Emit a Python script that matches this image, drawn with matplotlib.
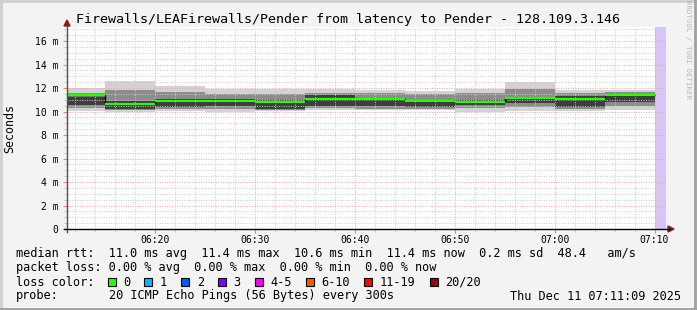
import numpy as np
import matplotlib.pyplot as plt
from matplotlib.patches import Rectangle, Polygon
from matplotlib.lines import Line2D
from matplotlib.transforms import IdentityTransform
from matplotlib.ticker import MultipleLocator

W, H = 697, 310

title = "Firewalls/LEAFirewalls/Pender from latency to Pender - 128.109.3.146"

# step edges, minutes after 06:00 (graph runs 06:11:09 -> 07:11:09)
t_edges = [11.15, 15, 20, 25, 30, 35, 40, 45, 50, 55, 60, 65, 70]
t_end = 71.15

# smoke per 5 min step, ms
hi      = [12.00, 12.62, 12.20, 11.90, 11.95, 11.90, 11.85, 11.75, 11.95, 12.55, 11.85, 11.85]
mid_hi  = [11.60, 11.85, 11.70, 11.50, 11.50, 11.60, 11.60, 11.50, 11.60, 11.90, 11.60, 11.70]
core_hi = [11.20, 10.90, 11.05, 11.05, 10.95, 11.40, 11.00, 11.00, 11.00, 11.20, 11.30, 11.40]
median  = [11.38, 10.66, 10.90, 10.94, 10.78, 11.03, 11.10, 10.92, 10.85, 11.18, 11.03, 11.45]
core_lo = [10.55, 10.20, 10.40, 10.50, 10.25, 10.50, 10.45, 10.40, 10.55, 10.70, 10.40, 10.85]
mid_lo  = [10.30, 10.10, 10.20, 10.20, 10.15, 10.30, 10.25, 10.25, 10.30, 10.40, 10.20, 10.50]
lo      = [10.05, 9.95, 10.05, 9.92, 10.05, 10.15, 10.10, 10.14, 10.00, 10.05, 10.07, 10.15]

x_labels = ["06:20", "06:30", "06:40", "06:50", "07:00", "07:10"]
y_ticks = [0, 2, 4, 6, 8, 10, 12, 14, 16]

legend_lines = [
    "median rtt:  11.0 ms avg  11.4 ms max  10.6 ms min  11.4 ms now  0.2 ms sd  48.4   am/s",
    "packet loss: 0.00 % avg  0.00 % max  0.00 % min  0.00 % now",
]
loss_labels = ["0", "1", "2", "3", "4-5", "6-10", "11-19", "20/20"]
loss_colors = ["#26ff00", "#00b8ff", "#0059ff", "#7e00ff", "#ff00ff", "#ff5500", "#ff0000", "#a10000"]
probe_text = "20 ICMP Echo Pings (56 Bytes) every 300s"
date_text = "Thu Dec 11 07:11:09 2025"

mono = "DejaVu Sans Mono"
plt.rcParams['font.family'] = mono

fig = plt.figure(figsize=(W / 100, H / 100), dpi=100, facecolor="#f3f3f3")
ax = fig.add_axes([67 / W, (H - 229) / H, 599 / W, 202 / H])
ax.set_facecolor("white")

# smoke
ax.stairs(hi, t_edges, baseline=lo, fill=True, color="#d2d2d2", lw=0, zorder=1)
ax.stairs(mid_hi, t_edges, baseline=mid_lo, fill=True, color="#8c8c8c", lw=0, zorder=1)
ax.stairs(core_hi, t_edges, baseline=core_lo, fill=True, color="#3e3e3e", lw=0, zorder=1)

# median: black step then green segments
ax.stairs(median, t_edges, baseline=None, color="black", lw=1, zorder=3)
ax.hlines(median, t_edges[:-1], t_edges[1:], color=loss_colors[0], lw=1.6, zorder=4)

ax.axvspan(t_edges[-1], t_end, color="#d8c4f6", lw=0, zorder=1)

ax.set_xlim(t_edges[0], t_end)
ax.set_ylim(0, 17.2)

x_pos = [int(s[:2]) * 60 + int(s[3:]) - 360 for s in x_labels]
ax.set_xticks(x_pos)
ax.set_xticklabels(x_labels)
ax.xaxis.set_minor_locator(MultipleLocator(2))
ax.set_yticks(y_ticks)
ax.set_yticklabels(["0" if v == 0 else "%d m" % v for v in y_ticks])
ax.yaxis.set_minor_locator(MultipleLocator(0.5))

ax.tick_params(which="both", labelsize=7, colors="#c0c0c0", labelcolor="black")
ax.tick_params(axis="x", which="major", length=3, pad=1.5, color="#f08080")
ax.tick_params(axis="x", which="minor", length=2)
ax.tick_params(axis="y", which="major", length=3, pad=3, color="#f08080")
ax.tick_params(axis="y", which="minor", length=2)

ax.set_axisbelow(False)
ax.grid(which="minor", color="#cccccc", linestyle=(0, (1, 1.5)), lw=0.7)
ax.grid(which="major", color="#f4a4a4", linestyle=(0, (1, 1.5)), lw=0.7)
for s in ax.spines.values():
    s.set_visible(False)

# axes lines with arrows (pixel coords, origin bottom-left)
idt = IdentityTransform()
def py(y):
    return H - y
fig.add_artist(Line2D([67, 67], [py(232), py(26)], color="#505050", lw=1, transform=idt))
fig.add_artist(Line2D([64, 670], [py(229), py(229)], color="black", lw=1, transform=idt))
fig.add_artist(Polygon([[64, py(26)], [70, py(26)], [67, py(20)]], closed=True,
                       color="#8b1a1a", transform=idt))
fig.add_artist(Polygon([[668, py(226)], [668, py(232)], [674, py(229)]], closed=True,
                       color="#8b1a1a", transform=idt))

# title, ylabel, watermark
fig.text(348 / W, py(19) / H, title, ha="center", va="center", fontsize=9.6)
fig.text(10 / W, py(128) / H, "Seconds", rotation=90, ha="center", va="center", fontsize=8.4)
fig.text(688 / W, py(50) / H, "RRDTOOL / TOBI OETIKER", rotation=270, ha="center",
         va="center", fontsize=5.3, color="#b8b8b8")

# legend
fs = 8.55
cw = 7.12
x0 = 16
fig.text(x0 / W, py(254) / H, legend_lines[0], ha="left", va="center", fontsize=fs)
fig.text(x0 / W, py(268) / H, legend_lines[1], ha="left", va="center", fontsize=fs)
fig.text(x0 / W, py(282) / H, "loss color:", ha="left", va="center", fontsize=fs)
sx = x0 + 13 * cw - 1
for lab, col in zip(loss_labels, loss_colors):
    fig.add_artist(Rectangle((sx, py(286)), 8, 8, facecolor=col, edgecolor="black",
                             lw=0.8, transform=idt))
    lx = sx + 15.5
    fig.text(lx / W, py(282) / H, lab, ha="left", va="center", fontsize=fs)
    sx = lx + (len(lab) + 2) * cw
fig.text(x0 / W, py(296) / H, "probe:", ha="left", va="center", fontsize=fs)
fig.text((x0 + 13 * cw) / W, py(296) / H, probe_text, ha="left", va="center", fontsize=fs)
fig.text(681 / W, py(296) / H, date_text, ha="right", va="center", fontsize=fs)

# border shading
fig.add_artist(Line2D([0, W], [H - 1, H - 1], color="#d0d0d0", lw=2, transform=idt))
fig.add_artist(Line2D([1, 1], [0, H], color="#d0d0d0", lw=2, transform=idt))
fig.add_artist(Line2D([W - 2, W - 2], [0, H], color="#a0a0a0", lw=2, transform=idt))
fig.add_artist(Line2D([0, W], [1, 1], color="#a0a0a0", lw=2, transform=idt))

fig.savefig("out.png", dpi=100, facecolor=fig.get_facecolor())
